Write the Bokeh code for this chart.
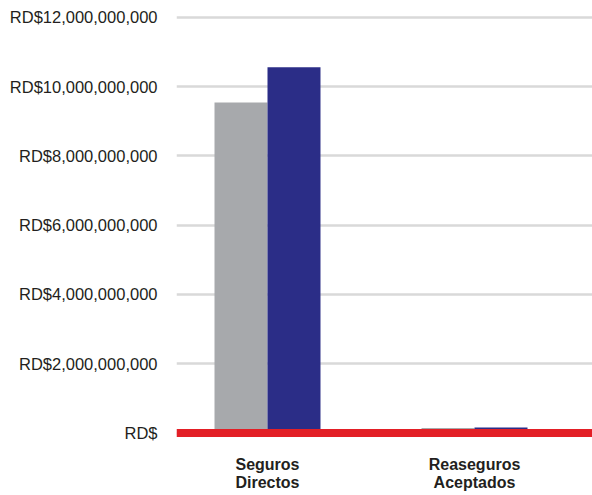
from bokeh.plotting import figure
from bokeh.models import ColumnDataSource, Range1d, FixedTicker, Span
from bokeh.transform import dodge
from bokeh.embed import file_html
from bokeh.resources import INLINE

categories = ["Seguros\nDirectos", "Reaseguros\nAceptados"]
series_prev = [9.54e9, 0.15e9]
series_curr = [10.56e9, 0.16e9]
y_ticks = [0, 2e9, 4e9, 6e9, 8e9, 10e9, 12e9]
y_tick_labels = ["RD$", "RD$2,000,000,000", "RD$4,000,000,000", "RD$6,000,000,000",
                 "RD$8,000,000,000", "RD$10,000,000,000", "RD$12,000,000,000"]

x_idx = list(range(len(categories)))
src = ColumnDataSource(dict(x=x_idx, prev=series_prev, curr=series_curr))

p = figure(width=592, height=495, output_backend="svg", toolbar_location=None,
           x_range=Range1d(-0.4396, 1.570), y_range=Range1d(-0.156e9, 12.196e9),
           min_border_left=176, min_border_right=0, min_border_top=10, min_border_bottom=57)
p.outline_line_color = None
p.background_fill_color = "white"
p.border_fill_color = "white"

p.vbar(x=dodge("x", -0.128, range=p.x_range), top="prev", width=0.256, source=src,
       fill_color="#a7a9ac", line_color=None)
p.vbar(x=dodge("x", 0.128, range=p.x_range), top="curr", width=0.256, source=src,
       fill_color="#2b2d87", line_color=None)

p.add_layout(Span(location=0, dimension="width", line_color="#e31f26", line_width=8))

font = "Liberation Sans"
p.yaxis.ticker = FixedTicker(ticks=y_ticks)
p.yaxis.major_label_overrides = {t: l for t, l in zip(y_ticks, y_tick_labels)}
p.yaxis.axis_line_color = None
p.yaxis.major_tick_line_color = None
p.yaxis.minor_tick_line_color = None
p.yaxis.major_tick_out = 0
p.yaxis.minor_tick_out = 0
p.yaxis.major_label_standoff = 19
p.yaxis.major_label_text_font = font
p.yaxis.major_label_text_font_size = "16.5px"
p.yaxis.major_label_text_color = "#231f20"

p.xaxis.ticker = FixedTicker(ticks=x_idx)
p.xaxis.major_label_overrides = {i: c for i, c in zip(x_idx, categories)}
p.xaxis.axis_line_color = None
p.xaxis.major_tick_line_color = None
p.xaxis.minor_tick_line_color = None
p.xaxis.major_tick_out = 0
p.xaxis.minor_tick_out = 0
p.xaxis.major_label_standoff = 17
p.xaxis.major_label_text_font = font
p.xaxis.major_label_text_font_size = "16px"
p.xaxis.major_label_text_font_style = "bold"
p.xaxis.major_label_text_color = "#231f20"
p.xaxis.major_label_text_line_height = 1.1

p.xgrid.grid_line_color = None
p.ygrid.ticker = FixedTicker(ticks=y_ticks)
p.ygrid.grid_line_color = "#d9d9d9"
p.ygrid.grid_line_width = 2.5

open("out.html", "w").write(file_html(p, INLINE))
